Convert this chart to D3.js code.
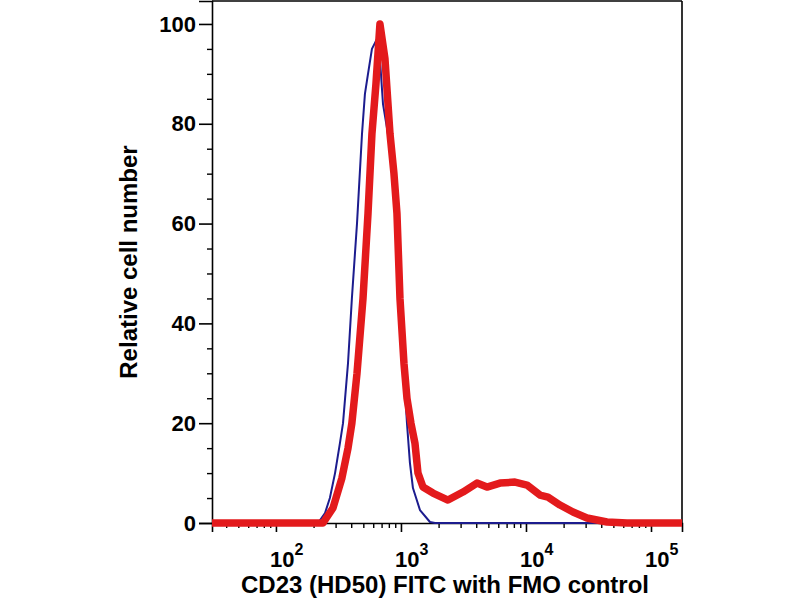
<!DOCTYPE html>
<html>
<head>
<meta charset="utf-8">
<script src="https://cdn.jsdelivr.net/npm/d3@7"></script>
<style>
  html, body { margin: 0; padding: 0; background: #fff; }
  text { font-family: "Liberation Sans", Arial, Helvetica, sans-serif; font-weight: bold; fill: #000; }
</style>
</head>
<body>
<svg id="chart" width="800" height="600"></svg>
<script>
// ---- data ----
const fmoX = [30.8, 217, 247, 270, 297, 325, 344, 377, 405, 445, 488, 515, 545, 586, 643, 679, 718, 787, 863, 929, 982, 1057, 1117, 1180, 1247, 1419, 1706, 1871, 177000];
const fmoY = [0,    0,   2,   5,   10,  16,  20,  32,  45,  60,  78,  86,  90,  95,  97,  93,  84,  78,  70,  60,  45,  30,   20,   12,   7,    2.6,  0.2,  0,    0];

const cd23X = [30.8, 238, 286, 337, 377, 405, 445, 497, 545, 586, 631, 679, 745, 817, 879, 929, 982, 1057, 1117, 1202, 1294, 1368, 1500, 1803, 2377, 3133, 4055, 4875, 6194, 8166, 10186, 12942, 14997, 18707, 23768, 30761, 44463, 64269, 177000];
const cd23Y = [0,    0,   3,   9,   15,  20,  30,  45,  62,  78,  88,  100, 93,  78,  70,  62,  45,  32,   25,   20,   16,   10,   7.2,  6,    4.6,  6.2,  8,    7.2,  8,    8.2,  7.6,   5.6,   5.2,   3.6,   2.2,   1,     0.2,   0,     0];

const yMajorTicks = [0, 20, 40, 60, 80, 100];
const yMinorTicks = [5, 10, 15, 25, 30, 35, 45, 50, 55, 65, 70, 75, 85, 90, 95];
const xMajorExps = [2, 3, 4, 5];
const xDomain = [30.8, 177000];
const yDomain = [0, 104.6];

const xTitle = "CD23 (HD50) FITC with FMO control";
const yTitle = "Relative cell number";

// ---- layout ----
const L = 212, R = 682, T = 1, B = 523;
const svg = d3.select("#chart");

const x = d3.scaleLog().domain(xDomain).range([L, R]);
const y = d3.scaleLinear().domain(yDomain).range([B, T]);

// minor x ticks: 2..9 x 10^k inside domain
const xMinorTicks = [];
for (let k = 1; k <= 5; k++) {
  for (let m = 2; m <= 9; m++) {
    const v = m * Math.pow(10, k);
    if (v > xDomain[0] && v < xDomain[1]) xMinorTicks.push(v);
  }
}

// ---- frame (top & right) ----
svg.append("line").attr("x1", L).attr("x2", R).attr("y1", T).attr("y2", T)
  .attr("stroke", "#000").attr("stroke-width", 1.6);
svg.append("line").attr("x1", R).attr("x2", R).attr("y1", T).attr("y2", B)
  .attr("stroke", "#000").attr("stroke-width", 1.6);

// ---- y axis ----
const yAxisMajor = d3.axisLeft(y).tickValues(yMajorTicks).tickSize(13).tickPadding(3).tickFormat(d3.format("d"));
const gy = svg.append("g").attr("transform", `translate(${L},0)`).call(yAxisMajor);
gy.select(".domain").attr("stroke-width", 1.6);
gy.selectAll(".tick line").attr("stroke-width", 1.6);
gy.selectAll(".tick text").attr("font-size", 22).style("font-family", '"Liberation Sans", Arial, sans-serif').style("font-weight", "bold");

const gyMinor = svg.append("g").attr("transform", `translate(${L},0)`)
  .call(d3.axisLeft(y).tickValues(yMinorTicks).tickSize(5).tickFormat(""));
gyMinor.select(".domain").remove();
gyMinor.selectAll(".tick line").attr("stroke-width", 1.4);

// ---- x axis ----
const gx = svg.append("g").attr("transform", `translate(0,${B})`)
  .call(d3.axisBottom(x).tickValues(xMajorExps.map(e => Math.pow(10, e))).tickSize(9).tickFormat(""));
gx.select(".domain").attr("stroke-width", 1.6);
gx.selectAll(".tick line").attr("stroke-width", 1.6);

const gxMinor = svg.append("g").attr("transform", `translate(0,${B})`)
  .call(d3.axisBottom(x).tickValues(xMinorTicks).tickSize(5).tickFormat(""));
gxMinor.select(".domain").remove();
gxMinor.selectAll(".tick line").attr("stroke-width", 1.4);

// x tick labels 10^e
const xl = svg.append("g");
xMajorExps.forEach(e => {
  const t = xl.append("text")
    .attr("x", x(Math.pow(10, e)) - 6)
    .attr("y", 567)
    .attr("text-anchor", "start");
  t.append("tspan").attr("font-size", 22).text("10");
  t.append("tspan").attr("font-size", 16).attr("dy", -12).text(String(e));
});

// ---- titles ----
svg.append("text")
  .attr("x", 445).attr("y", 593)
  .attr("text-anchor", "middle")
  .attr("font-size", 24)
  .text(xTitle);

svg.append("text")
  .attr("transform", `translate(137,262) rotate(-90)`)
  .attr("text-anchor", "middle")
  .attr("font-size", 24)
  .text(yTitle);

// ---- histograms ----
const line = d3.line().x(d => x(d[0])).y(d => y(d[1])).curve(d3.curveLinear);

svg.append("path")
  .datum(fmoX.map((v, i) => [v, fmoY[i]]))
  .attr("d", line)
  .attr("fill", "none")
  .attr("stroke", "#1c1c8e")
  .attr("stroke-width", 2)
  .attr("stroke-linejoin", "round");

svg.append("path")
  .datum(cd23X.map((v, i) => [v, cd23Y[i]]))
  .attr("d", line)
  .attr("fill", "none")
  .attr("stroke", "#e31a1c")
  .attr("stroke-width", 7.5)
  .attr("stroke-linejoin", "round")
  .attr("stroke-linecap", "butt");
</script>
</body>
</html>
